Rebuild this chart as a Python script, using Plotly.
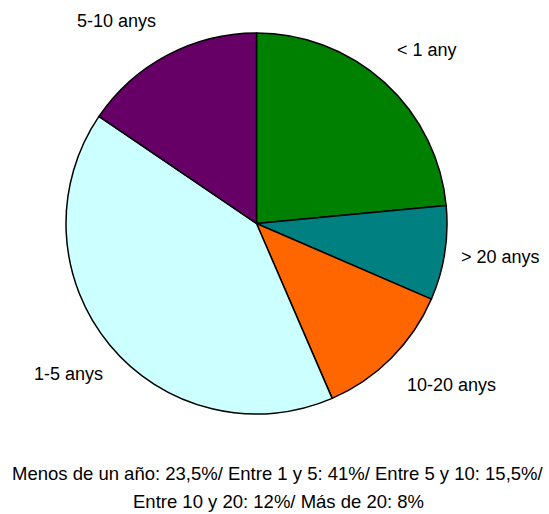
import plotly.graph_objects as go

labels = ["< 1 any", "> 20 anys", "10-20 anys", "1-5 anys", "5-10 anys"]
values = [23.5, 8, 12, 41, 15.5]
colors = ["#008000", "#008080", "#FF6600", "#CCFFFF", "#660066"]
label_pos = [(427, 50), (500, 257), (451, 385), (68, 374), (117, 21)]
footer = ["Menos de un año: 23,5%/ Entre 1 y 5: 41%/ Entre 5 y 10: 15,5%/",
          "Entre 10 y 20: 12%/ Más de 20: 8%"]

W, H = 549, 514
fig = go.Figure(go.Pie(
    labels=labels, values=values, sort=False, direction="clockwise",
    marker=dict(colors=colors, line=dict(color="black", width=1.5)),
    textinfo="none", hoverinfo="label+value", showlegend=False,
    domain=dict(x=[66 / W, 447 / W], y=[1 - 416 / H, 1 - 31 / H]),
))

font = dict(family="Liberation Sans, Arial", size=18, color="black")
anns = []
for lab, (px, py) in zip(labels, label_pos):
    anns.append(dict(text=lab, x=px / W, y=1 - py / H, xref="paper", yref="paper",
                     showarrow=False, font=font, xanchor="center", yanchor="middle"))
for i, line in enumerate(footer):
    anns.append(dict(text=line, x=278 / W, y=1 - (473 + 28 * i) / H, xref="paper", yref="paper",
                     showarrow=False, font=dict(font, size=18.5), xanchor="center", yanchor="middle"))

fig.update_layout(width=W, height=H, margin=dict(l=0, r=0, t=0, b=0),
                  paper_bgcolor="white", plot_bgcolor="white", annotations=anns)
fig.write_html("out.html")
